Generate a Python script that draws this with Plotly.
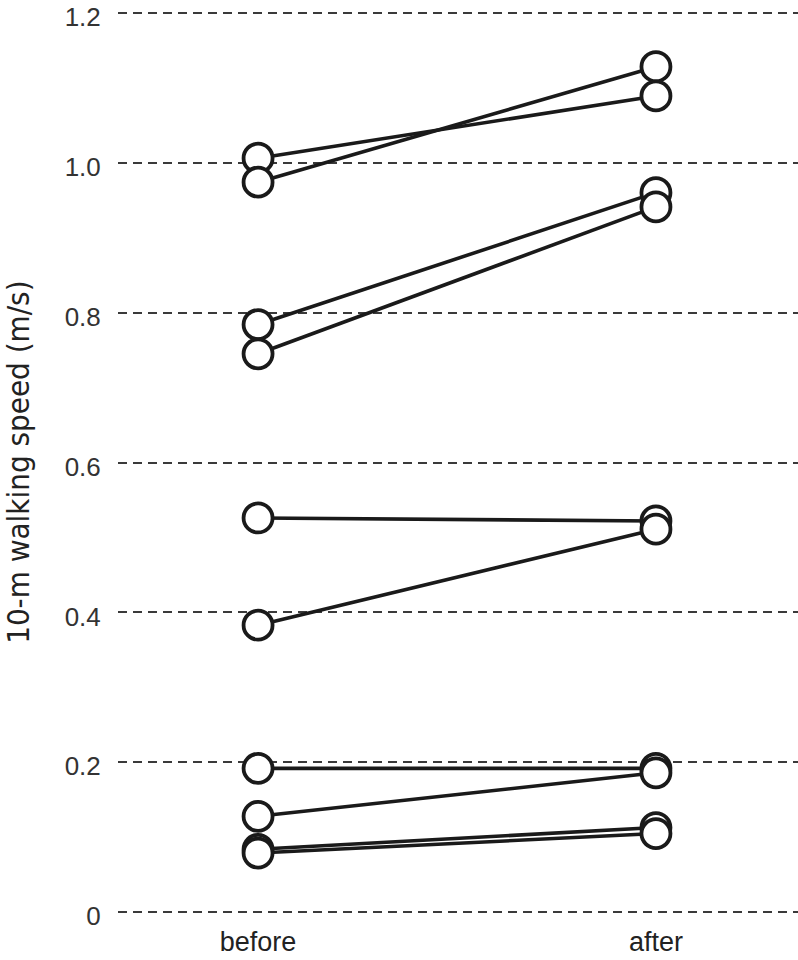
import plotly.graph_objects as go

categories = ["before", "after"]
before = [1.006, 0.974, 0.784, 0.745, 0.526, 0.383, 0.192, 0.128, 0.084, 0.079]
after = [1.089, 1.128, 0.960, 0.941, 0.522, 0.511, 0.192, 0.186, 0.113, 0.105]
yticks = [0, 0.2, 0.4, 0.6, 0.8, 1.0, 1.2]
yticklabels = ["0", "0.2", "0.4", "0.6", "0.8", "1.0", "1.2"]

xpos = [0, 1]
fig = go.Figure()
for b, a in zip(before, after):
    fig.add_trace(go.Scatter(x=xpos, y=[b, a], mode="lines",
                             line=dict(color="#1a1a1a", width=3.6),
                             showlegend=False, hoverinfo="skip"))
mx = [0] * len(before) + [1] * len(after)
my = before + after
fig.add_trace(go.Scatter(x=mx, y=my, mode="markers",
                         marker=dict(size=29, color="white",
                                     line=dict(color="#1a1a1a", width=3.8)),
                         showlegend=False))

fig.update_layout(
    width=798, height=960,
    margin=dict(l=118, r=0, t=9.3, b=44.3, autoexpand=False),
    plot_bgcolor="white", paper_bgcolor="white",
    font=dict(family="Liberation Sans, Arial, sans-serif", color="#333333"),
    xaxis=dict(range=[-0.352, 1.357], tickvals=xpos, ticktext=categories,
               showgrid=False, zeroline=False, showline=False, automargin=False,
               ticks="outside", ticklen=2, tickcolor="rgba(0,0,0,0)",
               tickfont=dict(size=27, color="#222222")),
    yaxis=dict(range=[-0.005, 1.205], tickvals=yticks, ticktext=yticklabels,
               showgrid=True, gridcolor="#3a3a3a", gridwidth=1.5, griddash="9px,6px",
               zeroline=False, showline=False, automargin=False,
               ticks="outside", ticklen=11, tickcolor="rgba(0,0,0,0)",
               ticklabeloverflow="allow", ticklabelshift=4,
               tickfont=dict(size=26, color="#333333")),
    annotations=[dict(text="10-m walking speed (m/s)", xref="paper", yref="paper",
                      x=-0.148, y=0.5, xanchor="center", yanchor="middle",
                      textangle=-90, showarrow=False,
                      font=dict(family="DejaVu Sans Condensed, sans-serif",
                                size=31, color="#222222"))],
)
fig.write_html("out.html", config={"displayModeBar": False},
               post_script="document.body.style.margin='0';")
